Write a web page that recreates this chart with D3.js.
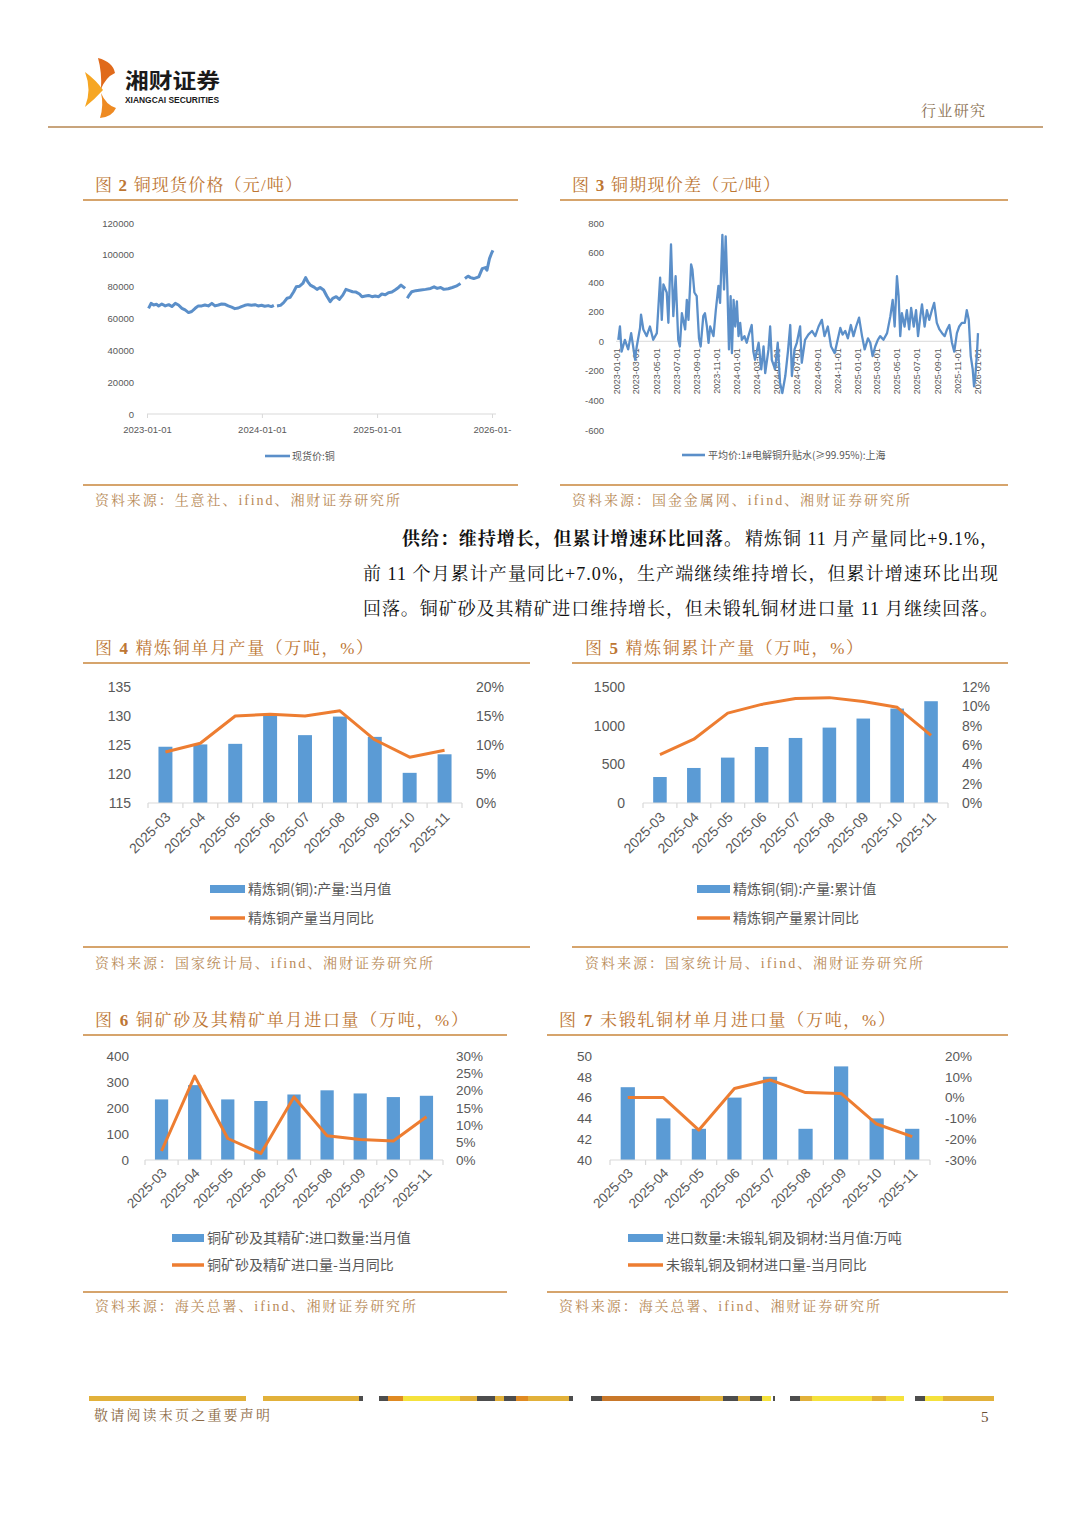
<!DOCTYPE html>
<html lang="zh-CN">
<head>
<meta charset="utf-8">
<title>铜现货价格与产量进口</title>
<script src="https://cdn.jsdelivr.net/npm/d3@7/dist/d3.min.js"></script>
<style>
  html, body { margin:0; padding:0; background:#ffffff; }
  svg { display:block; }
</style>
</head>
<body>
<svg id="page" width="1080" height="1527" viewBox="0 0 1080 1527"></svg>
<script>
// ================= DATA =================
const months = ["2025-03","2025-04","2025-05","2025-06","2025-07","2025-08","2025-09","2025-10","2025-11"];

// 图4 精炼铜单月产量（万吨）与当月同比（%）
const refinedMonthly    = [124.7, 125.1, 125.2, 130.1, 126.7, 129.9, 126.4, 120.2, 123.4];
const refinedMonthlyYoY = [8.8, 10.3, 15.0, 15.3, 15.0, 15.9, 10.9, 7.9, 9.1];
// 图5 精炼铜累计产量（万吨）与累计同比（%）
const refinedCum    = [336, 453, 587, 724, 841, 975, 1092, 1221, 1316];
const refinedCumYoY = [5.0, 6.6, 9.3, 10.2, 10.8, 10.9, 10.5, 9.9, 7.0];
// 图6 铜矿砂及其精矿进口（万吨）与同比（%）
const oreImport    = [233, 288, 233, 227, 252, 268, 256, 242, 247];
const oreImportYoY = [2.6, 24.2, 6.2, 1.9, 18.2, 7.0, 5.9, 5.5, 12.5];
// 图7 未锻轧铜及铜材进口（万吨）与同比（%）
const copperImport    = [47, 44, 43, 46, 48, 43, 49, 44, 43];
const copperImportYoY = [0.0, 0.0, -15.6, 4.4, 8.5, 2.4, 2.0, -12.7, -18.8];

// 图2 现货价:铜（元/吨），null = 休市缺口
const spotDates = ["2023-01-06","2023-01-14","2023-01-22","2023-01-31","2023-02-07","2023-02-17","2023-02-28","2023-03-11","2023-03-21","2023-04-01",
  "2023-04-11","2023-04-22","2023-05-02","2023-05-13","2023-05-23","2023-06-03","2023-06-13","2023-06-24","2023-07-04","2023-07-15",
  "2023-07-26","2023-08-05","2023-08-16","2023-08-26","2023-09-06","2023-09-16","2023-09-27","2023-10-07","2023-10-18","2023-10-28",
  "2023-11-08","2023-11-18","2023-11-29","2023-12-10","2023-12-20","2023-12-31","2024-01-10","2024-01-21","2024-01-31","2024-02-08",
  "2024-02-12","2024-02-18","2024-02-29","2024-03-10","2024-03-21","2024-03-31","2024-04-11","2024-04-19","2024-04-30","2024-05-10",
  "2024-05-19","2024-05-26","2024-06-03","2024-06-13","2024-06-24","2024-07-04","2024-07-15","2024-07-25","2024-08-05","2024-08-13",
  "2024-08-24","2024-09-03","2024-09-14","2024-09-24","2024-10-05","2024-10-15","2024-10-26","2024-11-06","2024-11-14","2024-11-25",
  "2024-12-05","2024-12-16","2024-12-26","2025-01-06","2025-01-16","2025-01-27","2025-02-06","2025-02-17","2025-02-27","2025-03-10",
  "2025-03-18","2025-03-25","2025-03-31","2025-04-04","2025-04-07","2025-04-13","2025-04-21","2025-05-04","2025-05-20","2025-06-04",
  "2025-06-20","2025-07-01","2025-07-11","2025-07-22","2025-08-01","2025-08-15","2025-08-28","2025-09-09","2025-09-23","2025-10-01",
  "2025-10-07","2025-10-17","2025-10-25","2025-11-04","2025-11-20","2025-12-01","2025-12-11","2025-12-16","2025-12-24","2025-12-30",
  "2026-01-04"];
const spotValues = [66400, 69500, 68500, 68900, 67900, 69100, 67900, 68700, 67500, 69500,
  68500, 66400, 65400, 63700, 64400, 66400, 67900, 67900, 68500, 67900,
  69500, 67900, 68500, 69100, 68900, 67900, 67100, 66200, 66600, 67500,
  68300, 68700, 68300, 68700, 67900, 68300, 67700, 68100, 67500, 68300,
  null, 67900, 68300, 70000, 72700, 73300, 76800, 79900, 80300, 82000,
  85700, 83000, 81000, 79900, 78300, 79500, 77900, 74100, 70600, 72700,
  73700, 72000, 74700, 78300, 77500, 76800, 76600, 75400, 73700, 74100,
  74500, 73700, 74100, 73700, 75400, 74900, 76200, 76600, 77900, 79500,
  81000, 79900, 78900, null, 72700, 74700, 76800, 77500, 77900, 78300,
  78900, 79900, 78900, 79500, 78300, 78700, 79500, 80300, 82000, null,
  85100, 86600, 85700, 85100, 86200, 91300, 92000, 90300, 97600, 100700,
  102800];
const spotTickDates  = ["2023-01-01","2024-01-01","2025-01-01","2026-01-01"];
const spotTickLabels = ["2023-01-01","2024-01-01","2025-01-01","2026-01-"];
const spotYTicks = [0, 20000, 40000, 60000, 80000, 100000, 120000];

// 图3 平均价:1#电解铜升贴水(≥99.95%):上海（元/吨）
const spreadDates = ["2023-01-08","2023-01-13","2023-01-18","2023-01-28","2023-02-07","2023-02-16","2023-02-28","2023-03-05","2023-03-15","2023-03-18",
  "2023-03-25","2023-04-04","2023-04-14","2023-04-24","2023-05-05","2023-05-15","2023-05-20","2023-05-25","2023-06-04","2023-06-09",
  "2023-06-17","2023-06-24","2023-07-01","2023-07-09","2023-07-14","2023-07-20","2023-07-30","2023-08-04","2023-08-09","2023-08-17",
  "2023-08-21","2023-08-27","2023-09-03","2023-09-10","2023-09-15","2023-09-23","2023-09-28","2023-10-04","2023-10-09","2023-10-14",
  "2023-10-24","2023-10-31","2023-11-08","2023-11-13","2023-11-20","2023-11-25","2023-11-30","2023-12-05","2023-12-10","2023-12-15",
  "2023-12-19","2023-12-24","2023-12-29","2024-01-03","2024-01-08","2024-01-13","2024-01-18","2024-01-26","2024-02-02","2024-02-07",
  "2024-02-17","2024-02-22","2024-02-27","2024-03-09","2024-03-17","2024-03-24","2024-03-29","2024-04-08","2024-04-13","2024-04-18",
  "2024-04-28","2024-05-06","2024-05-13","2024-05-20","2024-05-29","2024-06-06","2024-06-13","2024-06-18","2024-06-26","2024-07-03",
  "2024-07-13","2024-07-18","2024-07-28","2024-08-07","2024-08-18","2024-08-28","2024-09-07","2024-09-17","2024-09-25","2024-10-05",
  "2024-10-15","2024-10-26","2024-11-05","2024-11-12","2024-11-19","2024-11-27","2024-12-05","2024-12-14","2024-12-22","2024-12-30",
  "2025-01-08","2025-01-17","2025-01-25","2025-02-04","2025-02-11","2025-02-18","2025-02-26","2025-03-06","2025-03-13","2025-03-23",
  "2025-04-03","2025-04-13","2025-04-20","2025-04-26","2025-05-03","2025-05-08","2025-05-13","2025-05-18","2025-05-26","2025-06-02",
  "2025-06-09","2025-06-15","2025-06-23","2025-06-30","2025-07-06","2025-07-13","2025-07-18","2025-07-26","2025-08-02","2025-08-09",
  "2025-08-17","2025-08-24","2025-09-01","2025-09-09","2025-09-17","2025-09-25","2025-10-02","2025-10-09","2025-10-17","2025-10-24",
  "2025-11-01","2025-11-08","2025-11-16","2025-11-25","2025-12-01","2025-12-07","2025-12-13","2025-12-19","2025-12-23","2025-12-27",
  "2026-01-01","2026-01-04"];
const spreadValues = [10, 100, -70, 10, -55, 55, -125, -35, 90, 180,
  80, 35, 100, 10, 55, 430, 145, 385, 330, 125,
  655, 170, 440, 10, -35, 190, 80, 280, 145, 520,
  485, 330, 305, 20, -35, 170, 190, 100, -10, 100,
  35, 210, 375, 260, 720, 350, 710, 375, -55, 305,
  -80, 280, 100, 270, 35, 125, 10, 35, -10, 35,
  110, -70, -125, -10, -190, -35, -215, -55, 100, -125,
  -190, -10, -280, -350, -235, -70, 110, -235, -55, -10,
  100, -145, 10, 45, 70, 35, 100, 145, 35, 100,
  -35, -80, 20, 90, 45, 70, 20, 110, 35, 100,
  160, 35, -55, 20, -10, -100, -35, 10, 35, 10,
  55, 170, 280, 100, 440, 305, 35, 190, 100, 210,
  80, 225, 100, 210, 35, 170, 250, 100, 210, 145,
  210, 260, 125, 80, 55, 35, 80, 110, -10, -70,
  55, 100, 125, 125, 210, 145, -100, -190, -305, -235,
  -80, 55];
const spreadTickDates = ["2023-01-01","2023-03-01","2023-05-01","2023-07-01","2023-09-01","2023-11-01","2024-01-01","2024-03-01","2024-05-01","2024-07-01",
  "2024-09-01","2024-11-01","2025-01-01","2025-03-01","2025-05-01","2025-07-01","2025-09-01","2025-11-01","2026-01-01"];
const spreadYTicks = [-600, -400, -200, 0, 200, 400, 600, 800];

// ================= DRAWING =================
const svg = d3.select("#page");
const SANS = "'Liberation Sans', Arial, 'Noto Sans CJK SC', sans-serif";
const CJK = "'Noto Sans CJK SC', 'Noto Sans', sans-serif";
const SERIF = "'Liberation Serif', 'Noto Serif CJK SC', 'Noto Sans CJK SC', serif";
const BLUE = "#5b9bd5", ORANGE = "#ed7d31", LINEBLUE = "#5b8fc9";
const GRAY = "#595959", AXIS = "#d9d9d9";
const TITLE_C = "#bd7633", RULE_C = "#d6a46c", SRC_C = "#b88a58";
const parse = d3.timeParse("%Y-%m-%d");

svg.append("rect").attr("width", 1080).attr("height", 1527).attr("fill", "#fff");

// ---------- header ----------
const hdr = svg.append("g");
hdr.append("path").attr("d", "M98,58 Q113,62 115,73 Q106,77 101,89 Q102,72 98,58 Z").attr("fill", "#e06a1b");
hdr.append("path").attr("d", "M85,72 Q96,80 103,90 Q95,99 85,107 Q92,90 85,72 Z").attr("fill", "#f6a623");
hdr.append("path").attr("d", "M101,93 Q106,105 116,108 Q112,117 100,118 Q104,105 101,93 Z").attr("fill", "#ee8a22");
hdr.append("text").attr("x", 125).attr("y", 88).attr("font-family", CJK).attr("font-weight", 700)
  .attr("font-size", 21).attr("fill", "#1a1a1a").attr("textLength", 95).attr("lengthAdjust", "spacingAndGlyphs").text("湘财证券");
hdr.append("text").attr("x", 125).attr("y", 103).attr("font-family", SANS).attr("font-weight", 700)
  .attr("font-size", 8.5).attr("fill", "#1a1a1a").attr("textLength", 94).attr("lengthAdjust", "spacingAndGlyphs").text("XIANGCAI SECURITIES");
hdr.append("text").attr("x", 921).attr("y", 116).attr("font-family", SERIF).attr("font-size", 15)
  .attr("fill", "#8c7355").attr("textLength", 64).text("行业研究");
hdr.append("line").attr("x1", 48).attr("x2", 1043).attr("y1", 127).attr("y2", 127).attr("stroke", "#c8a47c").attr("stroke-width", 2);

// ---------- figure frames (titles, rules, sources) ----------
const frames = [
  {num:"2", t:"铜现货价格（元/吨）", x:95, y:191, w:207, lx0:83, lx1:518, ly:200, src:"资料来源：生意社、ifind、湘财证券研究所", sx:95, sy:505, sw:305, sly:485},
  {num:"3", t:"铜期现价差（元/吨）", x:572, y:191, w:208, lx0:560, lx1:1008, ly:200, src:"资料来源：国金金属网、ifind、湘财证券研究所", sx:572, sy:505, sw:338, sly:485},
  {num:"4", t:"精炼铜单月产量（万吨，%）", x:95, y:654, w:278, lx0:83, lx1:530, ly:663, src:"资料来源：国家统计局、ifind、湘财证券研究所", sx:95, sy:968, sw:338, sly:947},
  {num:"5", t:"精炼铜累计产量（万吨，%）", x:585, y:654, w:278, lx0:572, lx1:1008, ly:663, src:"资料来源：国家统计局、ifind、湘财证券研究所", sx:585, sy:968, sw:338, sly:947},
  {num:"6", t:"铜矿砂及其精矿单月进口量（万吨，%）", x:95, y:1026, w:373, lx0:83, lx1:507, ly:1035, src:"资料来源：海关总署、ifind、湘财证券研究所", sx:95, sy:1311, sw:321, sly:1292},
  {num:"7", t:"未锻轧铜材单月进口量（万吨，%）", x:559, y:1026, w:336, lx0:547, lx1:1008, ly:1035, src:"资料来源：海关总署、ifind、湘财证券研究所", sx:559, sy:1311, sw:321, sly:1292}
];
frames.forEach(f => {
  const g = svg.append("g");
  const t = g.append("text").attr("x", f.x).attr("y", f.y).attr("font-family", SERIF).attr("font-size", 17)
    .attr("fill", TITLE_C).attr("textLength", f.w).attr("lengthAdjust", "spacing");
  t.append("tspan").text("图 ");
  t.append("tspan").attr("font-weight", 700).text(f.num);
  t.append("tspan").text(" " + f.t);
  g.append("line").attr("x1", f.lx0).attr("x2", f.lx1).attr("y1", f.ly).attr("y2", f.ly).attr("stroke", RULE_C).attr("stroke-width", 2);
  g.append("line").attr("x1", f.lx0).attr("x2", f.lx1).attr("y1", f.sly).attr("y2", f.sly).attr("stroke", RULE_C).attr("stroke-width", 2);
  g.append("text").attr("x", f.sx).attr("y", f.sy).attr("font-family", SERIF).attr("font-size", 14)
    .attr("fill", SRC_C).attr("textLength", f.sw).attr("lengthAdjust", "spacing").text(f.src);
});

// ---------- 图2 time-series ----------
(function () {
  const g = svg.append("g");
  const x = d3.scaleTime().domain([parse("2023-01-01"), parse("2026-01-01")]).range([147, 492]);
  const y = d3.scaleLinear().domain([0, 120000]).range([414, 223]);
  const data = spotDates.map((d, i) => ({ t: parse(d), v: spotValues[i] }));

  const ya = g.append("g").attr("transform", "translate(134,0)")
    .call(d3.axisLeft(y).tickValues(spotYTicks).tickSize(0).tickPadding(0).tickFormat(d3.format("d")));
  ya.select(".domain").remove();
  ya.selectAll("text").attr("font-family", SANS).attr("font-size", 9.5).attr("fill", GRAY);

  const xa = g.append("g").attr("transform", "translate(0,414)")
    .call(d3.axisBottom(x).tickValues(spotTickDates.map(parse)).tickSize(4).tickPadding(8)
      .tickFormat((d, i) => spotTickLabels[i]));
  xa.select(".domain").remove();
  xa.selectAll("line").attr("stroke", AXIS);
  xa.selectAll("text").attr("font-family", SANS).attr("font-size", 9.5).attr("fill", GRAY);
  g.append("line").attr("x1", 147).attr("x2", 496).attr("y1", 414).attr("y2", 414).attr("stroke", AXIS);

  const line = d3.line().defined(d => d.v != null).x(d => x(d.t)).y(d => y(d.v));
  g.append("path").datum(data).attr("d", line).attr("fill", "none").attr("stroke", LINEBLUE)
    .attr("stroke-width", 3).attr("stroke-linejoin", "round");

  g.append("line").attr("x1", 265).attr("x2", 290).attr("y1", 456).attr("y2", 456).attr("stroke", LINEBLUE).attr("stroke-width", 2.6);
  g.append("text").attr("x", 292).attr("y", 460).attr("font-family", CJK).attr("font-size", 10).attr("fill", GRAY).text("现货价:铜");
})();

// ---------- 图3 time-series ----------
(function () {
  const g = svg.append("g");
  const x = d3.scaleTime().domain([parse("2023-01-01"), parse("2026-01-01")]).range([616, 977]);
  const y = d3.scaleLinear().domain([-600, 800]).range([430, 223]);
  const data = spreadDates.map((d, i) => ({ t: parse(d), v: spreadValues[i] }));

  const ya = g.append("g").attr("transform", "translate(604,0)")
    .call(d3.axisLeft(y).tickValues(spreadYTicks).tickSize(0).tickPadding(0).tickFormat(d => String(d).replace("−", "-")));
  ya.select(".domain").remove();
  ya.selectAll("text").attr("font-family", SANS).attr("font-size", 9.5).attr("fill", GRAY);

  g.append("line").attr("x1", 616).attr("x2", 978).attr("y1", y(0)).attr("y2", y(0)).attr("stroke", AXIS);
  const xa = g.append("g").attr("transform", `translate(0,${y(0)})`)
    .call(d3.axisBottom(x).tickValues(spreadTickDates.map(parse)).tickSize(0).tickFormat(d3.timeFormat("%Y-%m-%d")));
  xa.select(".domain").remove();
  xa.selectAll("text").attr("font-family", SANS).attr("font-size", 9).attr("fill", GRAY)
    .attr("y", null).attr("dy", null).attr("text-anchor", "end")
    .attr("transform", "translate(3.5,7) rotate(-90)");

  const line = d3.line().defined(d => d.v != null).x(d => x(d.t)).y(d => y(d.v));
  g.append("path").datum(data).attr("d", line).attr("fill", "none").attr("stroke", LINEBLUE)
    .attr("stroke-width", 2.3).attr("stroke-linejoin", "round");

  g.append("line").attr("x1", 682).attr("x2", 705).attr("y1", 455).attr("y2", 455).attr("stroke", LINEBLUE).attr("stroke-width", 2.6);
  g.append("text").attr("x", 708).attr("y", 459).attr("font-family", CJK).attr("font-size", 10).attr("fill", GRAY)
    .text("平均价:1#电解铜升贴水(≥99.95%):上海");
})();

// ---------- body paragraph ----------
(function () {
  const g = svg.append("g").attr("font-family", SERIF).attr("font-size", 18).attr("fill", "#111");
  g.append("text").attr("x", 402).attr("y", 545).attr("font-weight", 700).attr("textLength", 340).attr("lengthAdjust", "spacing")
    .text("供给：维持增长，但累计增速环比回落。");
  g.append("text").attr("x", 745).attr("y", 545).attr("textLength", 253).attr("lengthAdjust", "spacing")
    .text("精炼铜 11 月产量同比+9.1%，");
  g.append("text").attr("x", 363).attr("y", 580).attr("textLength", 635).attr("lengthAdjust", "spacing")
    .text("前 11 个月累计产量同比+7.0%，生产端继续维持增长，但累计增速环比出现");
  g.append("text").attr("x", 363).attr("y", 615).attr("textLength", 635).attr("lengthAdjust", "spacing")
    .text("回落。铜矿砂及其精矿进口维持增长，但未锻轧铜材进口量 11 月继续回落。");
})();

// ---------- combo bar + line charts ----------
const pct = d => Math.round(d * 100) + "%";
function combo(c) {
  const g = svg.append("g");
  const x = d3.scaleBand().domain(months).range([c.x0, c.x1]).paddingInner(0.6).paddingOuter(0.3);
  const yL = d3.scaleLinear().domain(c.left).range([c.yB, c.yT]);
  const yR = d3.scaleLinear().domain(c.right).range([c.yB, c.yT]);

  const la = g.append("g").attr("transform", `translate(${c.lx},0)`)
    .call(d3.axisLeft(yL).tickValues(c.lticks).tickSize(0).tickPadding(0).tickFormat(d3.format("d")));
  la.select(".domain").remove();
  la.selectAll("text").attr("font-family", SANS).attr("font-size", c.fs).attr("fill", GRAY);

  const ra = g.append("g").attr("transform", `translate(${c.rx},0)`)
    .call(d3.axisRight(yR).tickValues(c.rticks).tickSize(0).tickPadding(0).tickFormat(pct));
  ra.select(".domain").remove();
  ra.selectAll("text").attr("font-family", SANS).attr("font-size", c.fs).attr("fill", GRAY);

  g.selectAll("rect.bar").data(c.bars).join("rect").attr("class", "bar")
    .attr("x", (d, i) => x(months[i])).attr("width", x.bandwidth())
    .attr("y", d => yL(d)).attr("height", d => yL(c.left[0]) - yL(d)).attr("fill", BLUE);

  g.append("line").attr("x1", c.x0).attr("x2", c.x1).attr("y1", c.yB).attr("y2", c.yB).attr("stroke", AXIS).attr("stroke-width", 1.2);
  g.selectAll("line.tk").data(d3.range(months.length + 1)).join("line").attr("class", "tk")
    .attr("x1", i => c.x0 + i * x.step()).attr("x2", i => c.x0 + i * x.step())
    .attr("y1", c.yB).attr("y2", c.yB + 5).attr("stroke", AXIS).attr("stroke-width", 1.2);

  const xa = g.append("g").attr("transform", `translate(0,${c.yB})`)
    .call(d3.axisBottom(x).tickSize(0));
  xa.select(".domain").remove();
  xa.selectAll("text").attr("font-family", SANS).attr("font-size", c.fs).attr("fill", GRAY)
    .attr("y", null).attr("dy", null).attr("text-anchor", "end")
    .attr("transform", `translate(${c.tdx},${c.tdy}) rotate(-45)`);

  const line = d3.line().x((d, i) => x(months[i]) + x.bandwidth() / 2).y(d => yR(d / 100));
  g.append("path").datum(c.line).attr("d", line).attr("fill", "none").attr("stroke", ORANGE)
    .attr("stroke-width", 3).attr("stroke-linejoin", "round");

  g.append("rect").attr("x", c.gx).attr("y", c.gy1 - 4).attr("width", c.gw).attr("height", 8).attr("fill", BLUE);
  g.append("text").attr("x", c.gt).attr("y", c.gy1 + 5).attr("font-family", CJK).attr("font-size", 14).attr("fill", GRAY).text(c.barName);
  g.append("line").attr("x1", c.gx).attr("x2", c.gx + c.gw).attr("y1", c.gy2).attr("y2", c.gy2).attr("stroke", ORANGE).attr("stroke-width", 3.5);
  g.append("text").attr("x", c.gt).attr("y", c.gy2 + 5).attr("font-family", CJK).attr("font-size", 14).attr("fill", GRAY).text(c.lineName);
}

combo({ x0:148, x1:462, yT:687, yB:803, left:[115,135], lticks:[115,120,125,130,135], lx:131,
  right:[0,0.20], rticks:[0,0.05,0.10,0.15,0.20], rx:476, fs:14, tdx:6, tdy:15,
  bars:refinedMonthly, line:refinedMonthlyYoY, gx:210, gw:35, gy1:889, gy2:918, gt:248,
  barName:"精炼铜(铜):产量:当月值", lineName:"精炼铜产量当月同比" });

combo({ x0:643, x1:948, yT:687, yB:803, left:[0,1500], lticks:[0,500,1000,1500], lx:625,
  right:[0,0.12], rticks:[0,0.02,0.04,0.06,0.08,0.10,0.12], rx:962, fs:14, tdx:6, tdy:15,
  bars:refinedCum, line:refinedCumYoY, gx:697, gw:33, gy1:889, gy2:918, gt:733,
  barName:"精炼铜(铜):产量:累计值", lineName:"精炼铜产量累计同比" });

combo({ x0:145, x1:443, yT:1056, yB:1160, left:[0,400], lticks:[0,100,200,300,400], lx:129,
  right:[0,0.30], rticks:[0,0.05,0.10,0.15,0.20,0.25,0.30], rx:456, fs:13.5, tdx:6, tdy:14,
  bars:oreImport, line:oreImportYoY, gx:172, gw:32, gy1:1238, gy2:1265, gt:207,
  barName:"铜矿砂及其精矿:进口数量:当月值", lineName:"铜矿砂及精矿进口量-当月同比" });

combo({ x0:610, x1:930, yT:1056, yB:1160, left:[40,50], lticks:[40,42,44,46,48,50], lx:592,
  right:[-0.30,0.20], rticks:[-0.30,-0.20,-0.10,0,0.10,0.20], rx:945, fs:13.5, tdx:6, tdy:14,
  bars:copperImport, line:copperImportYoY, gx:628, gw:35, gy1:1238, gy2:1265, gt:666,
  barName:"进口数量:未锻轧铜及铜材:当月值:万吨", lineName:"未锻轧铜及铜材进口量-当月同比" });

// ---------- footer ----------
(function () {
  const segs = [
    [89,246,"#e2b13a"],[263,359,"#e2b13a"],[359,363,"#4d4d4d"],
    [379,388,"#4d4d4d"],[388,403,"#e08a22"],[403,460,"#f5e23c"],[460,477,"#e2b13a"],[477,495,"#4d4d4d"],[495,504,"#e2b13a"],
    [504,516,"#4d4d4d"],[516,528,"#e08a22"],[528,569,"#e2b13a"],[569,573,"#4d4d4d"],
    [591,602,"#4d4d4d"],[602,700,"#c9782a"],[700,723,"#e2b13a"],[723,738,"#4d4d4d"],[738,750,"#e2b13a"],[750,762,"#4d4d4d"],
    [762,771,"#f5e23c"],[773,775,"#4d4d4d"],
    [790,800,"#4d4d4d"],[800,812,"#e2b13a"],[812,872,"#f5e23c"],[872,886,"#e2b13a"],[886,904,"#f5e23c"],
    [915,925,"#4d4d4d"],[925,943,"#f5e23c"],[943,994,"#e2b13a"]
  ];
  const g = svg.append("g");
  g.selectAll("rect").data(segs).join("rect").attr("x", d => d[0]).attr("width", d => d[1] - d[0])
    .attr("y", 1396).attr("height", 5).attr("fill", d => d[2]);
  g.append("text").attr("x", 94).attr("y", 1420).attr("font-family", SERIF).attr("font-size", 14)
    .attr("fill", "#8c6a45").attr("textLength", 176).attr("lengthAdjust", "spacing").text("敬请阅读末页之重要声明");
  g.append("text").attr("x", 981).attr("y", 1422).attr("font-family", SERIF).attr("font-size", 15)
    .attr("fill", "#6a5035").text("5");
})();
</script>
</body>
</html>
